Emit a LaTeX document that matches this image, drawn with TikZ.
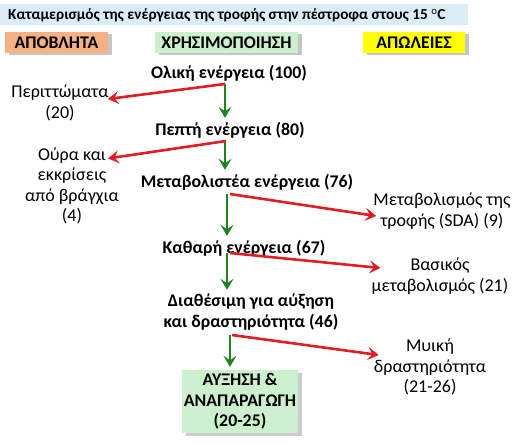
\documentclass[tikz,border=0pt]{standalone}
\usepackage{fontspec}
\setmainfont{Carlito}
\usetikzlibrary{shadows,arrows.meta}
\definecolor{titlebg}{RGB}{218,236,246}
\definecolor{wastefill}{RGB}{244,177,131}
\definecolor{usefill}{RGB}{204,240,206}
\definecolor{lossfill}{RGB}{255,255,0}
\definecolor{lossred}{RGB}{222,30,36}
\definecolor{usegreen}{RGB}{30,130,30}
\begin{document}
\begin{tikzpicture}[x=1pt,y=-1pt,
    font=\fontsize{18}{20.5}\selectfont,
    hdrbox/.style={minimum height=21pt, inner sep=0pt, font=\fontsize{17.8}{20}\selectfont\bfseries,
        drop shadow={shadow xshift=4pt, shadow yshift=-2pt, fill=black!45}},
    flow/.style={font=\fontsize{17.8}{20.5}\selectfont\bfseries, align=center, inner sep=1pt},
    side/.style={align=center, inner sep=1pt},
    usearr/.style={-{Stealth[length=11pt,width=13pt,inset=4.5pt]}, line width=2.6pt, usegreen},
    lossarr/.style={-{Stealth[length=11pt,width=13pt,inset=4.5pt]}, line width=2.6pt, lossred}]
    \useasboundingbox (0,0) rectangle (513,445);
    % title and column headings
    \fill[titlebg] (0,4) rectangle (468,25);
    \node[anchor=west, inner sep=0pt, font=\fontsize{15.3}{17}\selectfont\bfseries] (title) at (8,15)
        {Καταμερισμός της ενέργειας της τροφής στην πέστροφα στους 15 $^{\mathrm{o}}$C};
    \node[hdrbox, fill=wastefill, minimum width=103pt] (waste) at (56.5,42.5) {ΑΠΟΒΛΗΤΑ};
    \node[hdrbox, fill=usefill, minimum width=143pt] (use) at (226.5,42.5) {ΧΡΗΣΙΜΟΠΟΙΗΣΗ};
    \node[hdrbox, fill=lossfill, minimum width=102pt] (loss) at (414,42.5) {ΑΠΩΛΕΙΕΣ};
    % energy flow
    \node[flow] (total) at (229,73) {Ολική ενέργεια (100)};
    \node[flow] (digest) at (230,130) {Πεπτή ενέργεια (80)};
    \node[flow] (metab) at (247,182) {Μεταβολιστέα ενέργεια (76)};
    \node[flow] (net) at (244,248) {Καθαρή ενέργεια (67)};
    \node[flow] (avail) at (251,312) {Διαθέσιμη για αύξηση\\και δραστηριότητα (46)};
    \node[flow, fill=usefill, minimum width=116pt, minimum height=63pt,
        drop shadow={shadow xshift=4pt, shadow yshift=-3pt, fill=black!40}] (grow) at (240,401.5)
        {ΑΥΞΗΣΗ \&\\ΑΝΑΠΑΡΑΓΩΓΗ\\(20-25)};
    % losses and waste
    \node[side] (faeces) at (60,103) {Περιττώματα\\(20)};
    \node[side] (urine) at (72,186) {Ούρα και\\εκκρίσεις\\από βράγχια\\(4)};
    \node[side] (sda) at (442,211) {Μεταβολισμός της\\τροφής (SDA) (9)};
    \node[side] (basal) at (440,276) {Βασικός\\μεταβολισμός (21)};
    \node[side] (muscle) at (430,367) {Μυική\\δραστηριότητα\\(21-26)};
    % branch points
    \coordinate (b1) at (225,84);
    \coordinate (b2) at (225,141);
    \coordinate (b3) at (227,194);
    \coordinate (b4) at (227,253);
    \coordinate (b5) at (230,335);
    \foreach \b/\nxt in {b1/digest,b2/metab,b3/net,b4/avail,b5/grow}
        \draw[usearr] (\b) -- ([yshift=3pt]\b |- \nxt.north);
    \draw[lossarr] (b1) -- ([shift={(-2,-4)}]faeces.east);
    \draw[lossarr] ([xshift=1pt]b2) -- ([shift={(-12,12)}]urine.north east);
    \draw[lossarr] ([xshift=3pt]b3) -- ([shift={(4,5)}]sda.west);
    \draw[lossarr] ([xshift=3pt]b4) -- ([shift={(10,-8)}]basal.west);
    \draw[lossarr] ([xshift=2pt]b5) -- ([shift={(6,-12)}]muscle.west);
\end{tikzpicture}
\end{document}
